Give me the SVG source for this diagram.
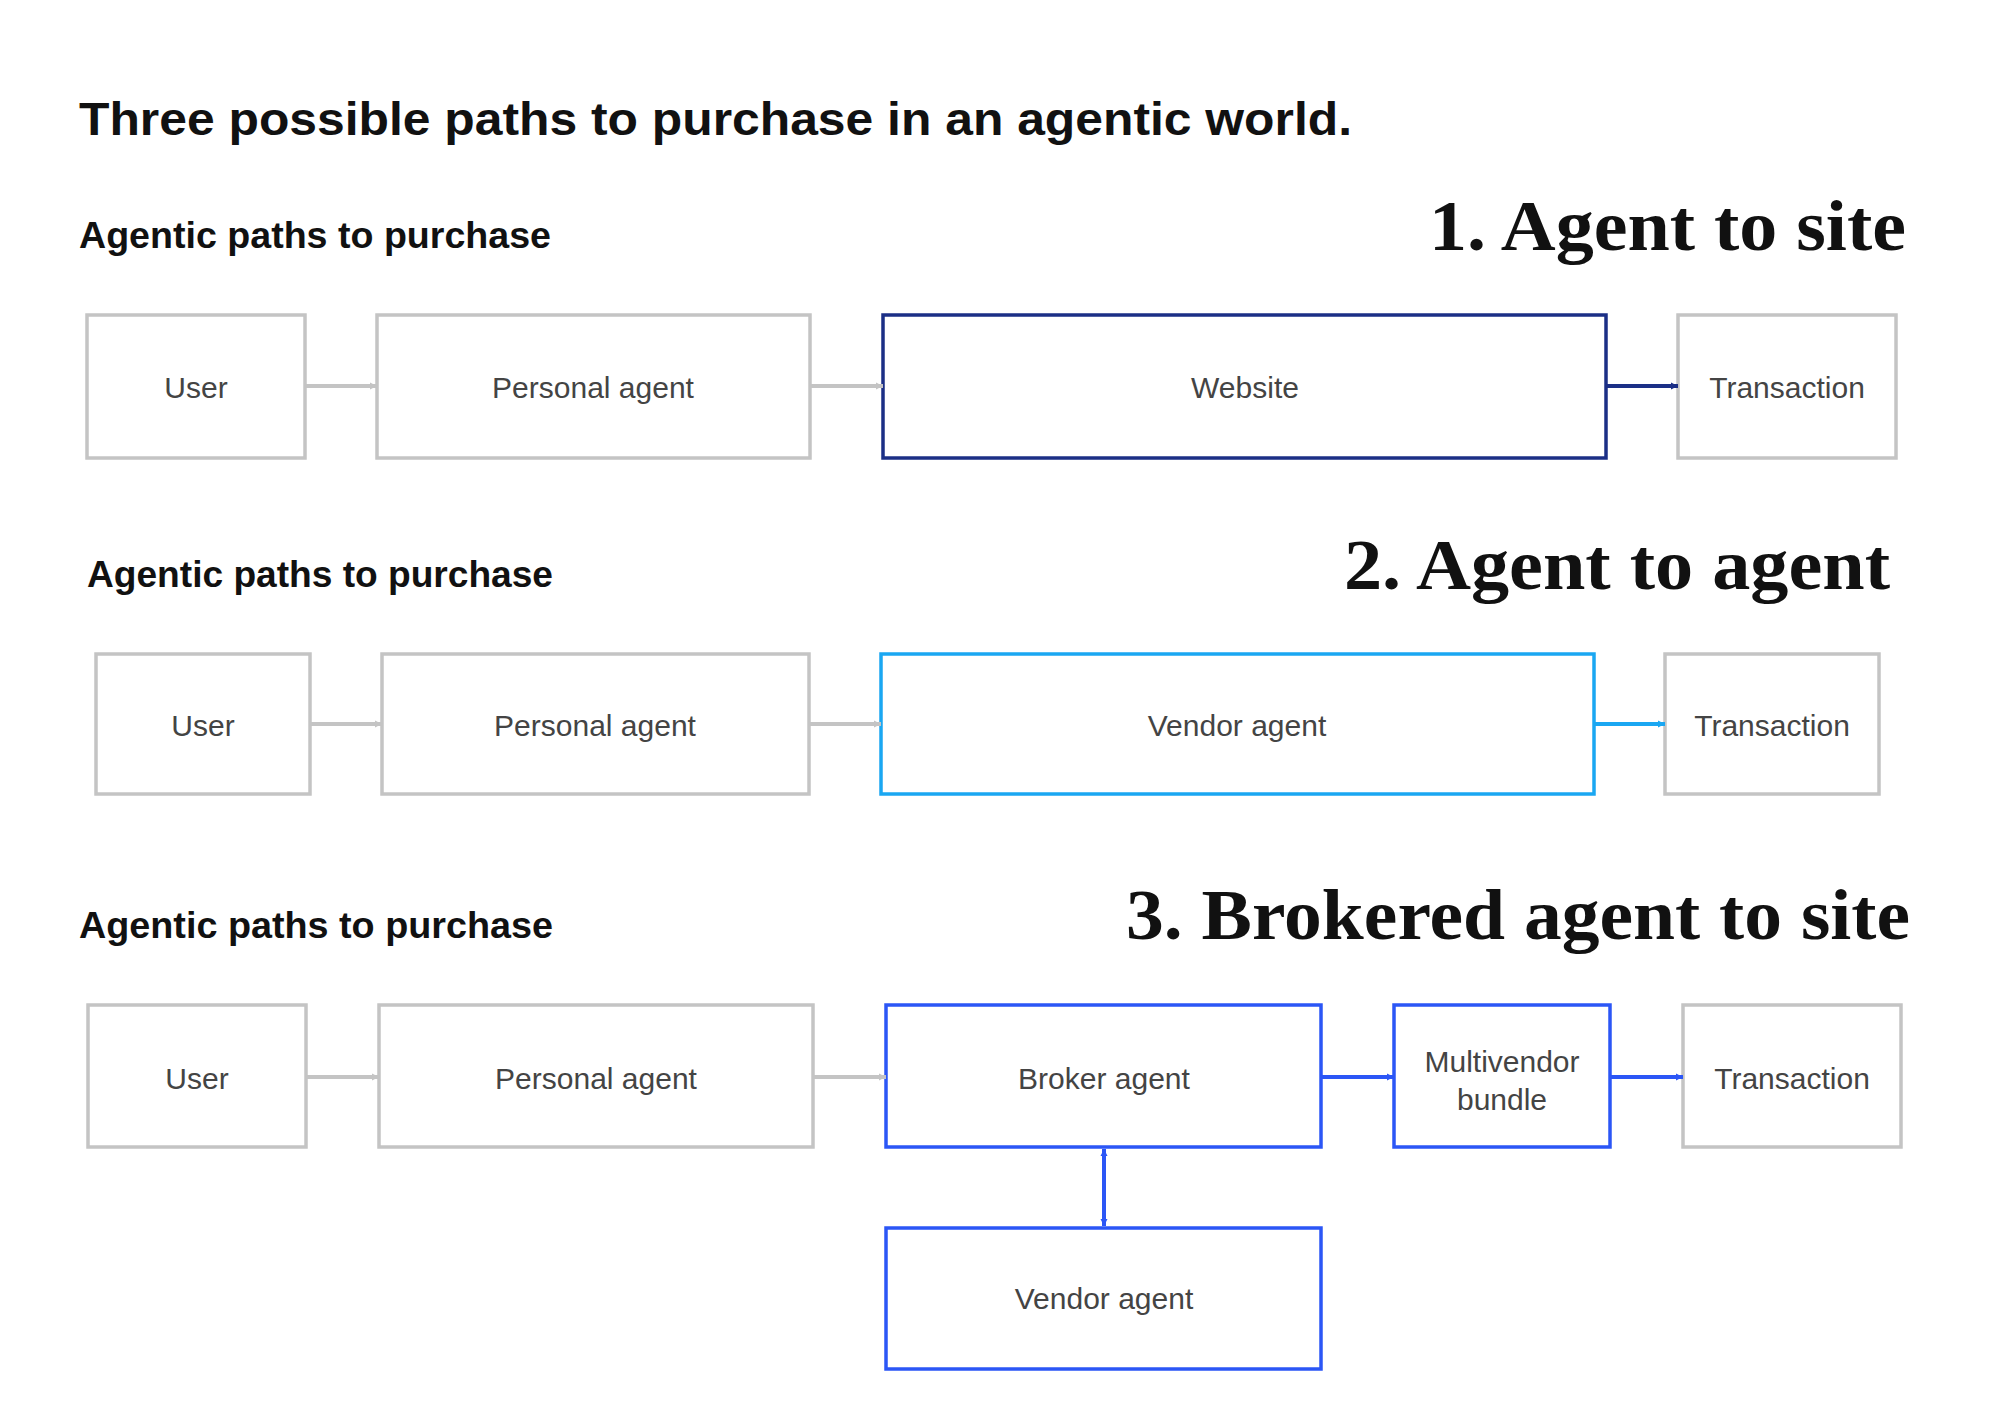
<svg xmlns="http://www.w3.org/2000/svg" width="2000" height="1428" viewBox="0 0 2000 1428">
<style>
.title{font-family:"Liberation Sans",Arial,sans-serif;font-weight:bold;fill:#111}
.sub{font-family:"Liberation Sans",Arial,sans-serif;font-weight:bold;font-size:36px;fill:#111}
.head{font-family:"Liberation Serif","Times New Roman",serif;font-weight:bold;font-size:72px;fill:#111}
.box{fill:#fff;stroke-width:3.5}
.g{stroke:#c4c4c4}.n{stroke:#1b2f86}.c{stroke:#1aa7f2}.b{stroke:#2b56f6}
.lbl{font-family:"Liberation Sans",Arial,sans-serif;font-size:30px;fill:#444;text-anchor:middle}
.ln{stroke-width:4;fill:none}
</style>
<defs>
<marker id="ag" viewBox="0 0 10 10" refX="10" refY="5" markerWidth="7" markerHeight="8" markerUnits="userSpaceOnUse" orient="auto"><path d="M0,0L10,5L0,10z" fill="#c4c4c4"/></marker>
<marker id="an" viewBox="0 0 10 10" refX="10" refY="5" markerWidth="7" markerHeight="8" markerUnits="userSpaceOnUse" orient="auto"><path d="M0,0L10,5L0,10z" fill="#1b2f86"/></marker>
<marker id="ac" viewBox="0 0 10 10" refX="10" refY="5" markerWidth="7" markerHeight="8" markerUnits="userSpaceOnUse" orient="auto"><path d="M0,0L10,5L0,10z" fill="#1aa7f2"/></marker>
<marker id="ab" viewBox="0 0 10 10" refX="10" refY="5" markerWidth="7" markerHeight="8" markerUnits="userSpaceOnUse" orient="auto-start-reverse"><path d="M0,0L10,5L0,10z" fill="#2b56f6"/></marker>
</defs>
<rect width="2000" height="1428" fill="#fff"/>
<text class="title" x="79" y="135" font-size="46" textLength="1273" lengthAdjust="spacingAndGlyphs">Three possible paths to purchase in an agentic world.</text>

<text class="sub" x="79" y="248" textLength="472" lengthAdjust="spacingAndGlyphs">Agentic paths to purchase</text>
<text class="head" x="1429" y="250" textLength="477" lengthAdjust="spacingAndGlyphs">1. Agent to site</text>
<text class="sub" x="87" y="587" textLength="466" lengthAdjust="spacingAndGlyphs">Agentic paths to purchase</text>
<text class="head" x="1344" y="589" textLength="546" lengthAdjust="spacingAndGlyphs">2. Agent to agent</text>
<text class="sub" x="79" y="938" textLength="474" lengthAdjust="spacingAndGlyphs">Agentic paths to purchase</text>
<text class="head" x="1126" y="939" textLength="784" lengthAdjust="spacingAndGlyphs">3. Brokered agent to site</text>

<g id="r1-user"><rect class="box g" x="87" y="315" width="218" height="143"/><text class="lbl" x="196" y="398">User</text></g>
<g id="r1-personal"><rect class="box g" x="377" y="315" width="433" height="143"/><text class="lbl" x="593" y="398">Personal agent</text></g>
<g id="r1-website"><rect class="box n" x="883" y="315" width="723" height="143"/><text class="lbl" x="1245" y="398">Website</text></g>
<g id="r1-transaction"><rect class="box g" x="1678" y="315" width="218" height="143"/><text class="lbl" x="1787" y="398">Transaction</text></g>

<g id="r2-user"><rect class="box g" x="96" y="654" width="214" height="140"/><text class="lbl" x="203" y="736">User</text></g>
<g id="r2-personal"><rect class="box g" x="382" y="654" width="427" height="140"/><text class="lbl" x="595" y="736">Personal agent</text></g>
<g id="r2-vendor"><rect class="box c" x="881" y="654" width="713" height="140"/><text class="lbl" x="1237" y="736">Vendor agent</text></g>
<g id="r2-transaction"><rect class="box g" x="1665" y="654" width="214" height="140"/><text class="lbl" x="1772" y="736">Transaction</text></g>

<g id="r3-user"><rect class="box g" x="88" y="1005" width="218" height="142"/><text class="lbl" x="197" y="1089">User</text></g>
<g id="r3-personal"><rect class="box g" x="379" y="1005" width="434" height="142"/><text class="lbl" x="596" y="1089">Personal agent</text></g>
<g id="r3-broker"><rect class="box b" x="886" y="1005" width="435" height="142"/><text class="lbl" x="1104" y="1089">Broker agent</text></g>
<g id="r3-multi"><rect class="box b" x="1394" y="1005" width="216" height="142"/><text class="lbl" x="1502" y="1072">Multivendor</text><text class="lbl" x="1502" y="1110">bundle</text></g>
<g id="r3-transaction"><rect class="box g" x="1683" y="1005" width="218" height="142"/><text class="lbl" x="1792" y="1089">Transaction</text></g>
<g id="r3-vendor"><rect class="box b" x="886" y="1228" width="435" height="141"/><text class="lbl" x="1104" y="1309">Vendor agent</text></g>

<g id="connectors">
<line class="ln" stroke="#c4c4c4" x1="305" y1="386" x2="377" y2="386" marker-end="url(#ag)"/>
<line class="ln" stroke="#c4c4c4" x1="810" y1="386" x2="883" y2="386" marker-end="url(#ag)"/>
<line class="ln" stroke="#1b2f86" x1="1606" y1="386" x2="1678" y2="386" marker-end="url(#an)"/>
<line class="ln" stroke="#c4c4c4" x1="310" y1="724" x2="382" y2="724" marker-end="url(#ag)"/>
<line class="ln" stroke="#c4c4c4" x1="809" y1="724" x2="881" y2="724" marker-end="url(#ag)"/>
<line class="ln" stroke="#1aa7f2" x1="1594" y1="724" x2="1665" y2="724" marker-end="url(#ac)"/>
<line class="ln" stroke="#c4c4c4" x1="306" y1="1077" x2="379" y2="1077" marker-end="url(#ag)"/>
<line class="ln" stroke="#c4c4c4" x1="813" y1="1077" x2="886" y2="1077" marker-end="url(#ag)"/>
<line class="ln" stroke="#2b56f6" x1="1321" y1="1077" x2="1394" y2="1077" marker-end="url(#ab)"/>
<line class="ln" stroke="#2b56f6" x1="1610" y1="1077" x2="1683" y2="1077" marker-end="url(#ab)"/>
<line class="ln" stroke="#2b56f6" x1="1104" y1="1149" x2="1104" y2="1226" marker-start="url(#ab)" marker-end="url(#ab)"/>
</g>
</svg>
